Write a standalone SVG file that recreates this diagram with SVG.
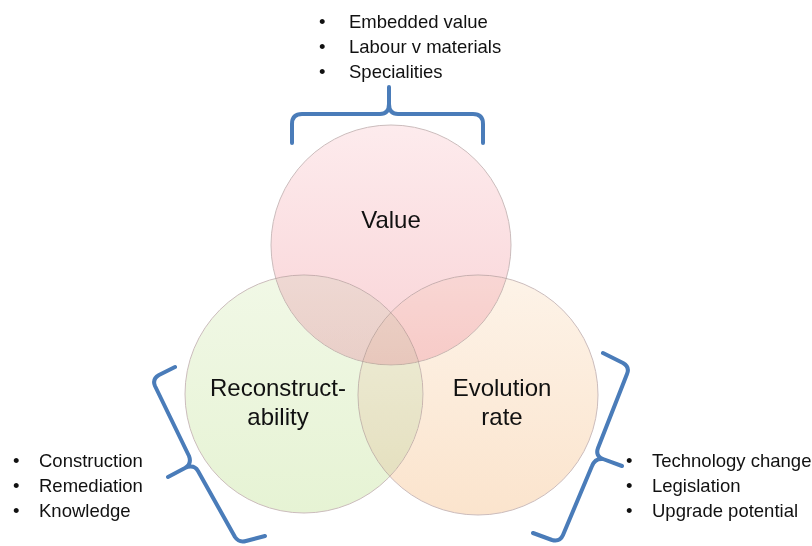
<svg xmlns="http://www.w3.org/2000/svg" width="812" height="546" viewBox="0 0 812 546">
<defs>
<linearGradient id="gV" x1="0" y1="0" x2="0" y2="1"><stop offset="0" stop-color="#fdebed"/><stop offset="1" stop-color="#f9d3d6"/></linearGradient>
<linearGradient id="gR" x1="0" y1="0" x2="0" y2="1"><stop offset="0" stop-color="#f1f8e6"/><stop offset="1" stop-color="#e6f3d4"/></linearGradient>
<linearGradient id="gE" x1="0" y1="0" x2="0" y2="1"><stop offset="0" stop-color="#fdf3e8"/><stop offset="1" stop-color="#fbe4cd"/></linearGradient>
</defs>
<style>
.c{stroke:#cbbcbc;stroke-width:1;mix-blend-mode:darken}
.m{mix-blend-mode:multiply}
.t{font-family:"Liberation Sans",Arial,sans-serif;font-size:24px;fill:#111;text-anchor:middle}
.b{font-family:"Liberation Sans",Arial,sans-serif;font-size:18.5px;fill:#111}
.br{fill:none;stroke:#4a7cb9;stroke-width:4;stroke-linecap:round;stroke-linejoin:round}
</style>
<rect width="812" height="546" fill="#fff"/>
<g id="value"><circle id="cV" class="c" cx="391" cy="245" r="120" fill="url(#gV)"/></g>
<g id="reconstructability"><circle id="cR" class="c" cx="304" cy="394" r="119" fill="url(#gR)"/></g>
<g id="evolution"><circle id="cE" class="c" cx="478" cy="395" r="120" fill="url(#gE)"/></g>
<g opacity="0.5">
<rect x="180" y="120" width="425" height="400" fill="#fff"/>
<circle class="m" cx="391" cy="245" r="120" fill="url(#gV)" stroke="#cbbcbc"/>
<circle class="m" cx="304" cy="394" r="119" fill="url(#gR)" stroke="#cbbcbc"/>
<circle class="m" cx="478" cy="395" r="120" fill="url(#gE)" stroke="#cbbcbc"/>
</g>
<g id="labels">
<text class="t" x="391" y="228">Value</text>
<text class="t" x="278" y="396">Reconstruct-</text>
<text class="t" x="278" y="425">ability</text>
<text class="t" x="502" y="396">Evolution</text>
<text class="t" x="502" y="425">rate</text>
</g>
<g id="connectors">
<path class="br" d="M292,143 L292,124 Q292,114 302,114 L380,114 Q389,114 389,104 L389,87 M389,104 Q389,114 398,114 L473,114 Q483,114 483,124 L483,143"/>
<path class="br" d="M175,367 L159,375 Q152,379 155,386 L189,456 Q192,464 185,468 L168,477 M185,468 Q194,464 198,471 L235,537 Q239,543 246,541 L265,536"/>
<path class="br" d="M603,353 L623,363 Q630,367 627,374 L598,448 Q595,456 603,459 L622,466 M603,459 Q595,458 592,466 L563,535 Q560,542 552,540 L533,533"/>
</g>
<g id="list-value" class="b">
<text x="319" y="28">•</text><text x="349" y="28">Embedded value</text>
<text x="319" y="53">•</text><text x="349" y="53">Labour v materials</text>
<text x="319" y="78">•</text><text x="349" y="78">Specialities</text>
</g>
<g id="list-reconstruct" class="b">
<text x="13" y="467">•</text><text x="39" y="467">Construction</text>
<text x="13" y="492">•</text><text x="39" y="492">Remediation</text>
<text x="13" y="517">•</text><text x="39" y="517">Knowledge</text>
</g>
<g id="list-evolution" class="b">
<text x="626" y="467">•</text><text x="652" y="467">Technology change</text>
<text x="626" y="492">•</text><text x="652" y="492">Legislation</text>
<text x="626" y="517">•</text><text x="652" y="517">Upgrade potential</text>
</g>
</svg>
